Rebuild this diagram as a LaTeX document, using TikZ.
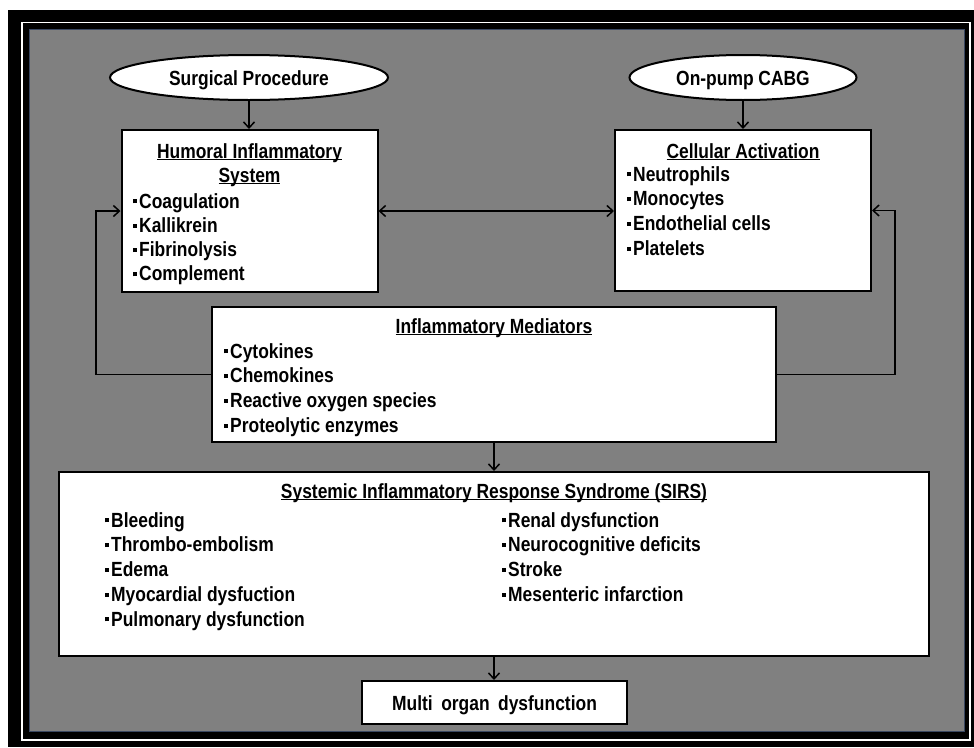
\documentclass[tikz,border=0pt]{standalone}
\usepackage{fontspec}
\setmainfont{Liberation Sans}[FakeStretch=0.85]
\usetikzlibrary{shapes.geometric,shadows,arrows.meta}
\definecolor{bggray}{RGB}{128,128,128}
\definecolor{frameblue}{RGB}{58,72,98}
\newcommand\ulc[1]{\setbox0\hbox{#1}\rlap{\rule[-2.4pt]{\wd0}{1.4pt}}\box0}
\newcommand\bulsq{\rule[4.6pt]{4pt}{4pt}\kern2pt}
\begin{document}
\begin{tikzpicture}[x=1pt,y=-1pt,
  box/.style={draw=black, line width=2pt, fill=white, inner sep=0pt,
    drop shadow={shadow xshift=3pt, shadow yshift=-3pt, opacity=0.55}},
  oval/.style={box, ellipse},
  txt/.style={font=\fontsize{20.5}{24}\selectfont\bfseries, text height=15pt, text depth=3pt, inner sep=0pt},
  itm/.style={txt, anchor=west},
  barb/.tip={Straight Barb[length=6pt,width=11pt,line width=1.5pt]},
  arr/.style={line width=1.5pt, -barb},
  arrb/.style={line width=1.5pt, barb-barb}
]
\useasboundingbox (0,0) rectangle (974,747);
% frame
\fill[white] (0,0) rectangle (974,747);
\fill[black] (8,10) rectangle (974,747);
\draw[white, line width=1.3pt] (22,22.5) rectangle (970,740);
\fill[bggray] (29,29) rectangle (965,732);
\draw[frameblue, line width=1pt] (29.5,29.5) rectangle (964.5,731.5);

% ovals
\node[oval, minimum width=278pt, minimum height=45pt] (surg) at (249,77.5) {};
\node[txt] (surgt) at (249,79) {Surgical Procedure};
\node[oval, minimum width=227pt, minimum height=45pt] (cabg) at (743,77.5) {};
\node[txt] (cabgt) at (743,79) {On-pump CABG};

% boxes
\node[box, minimum width=256pt, minimum height=162pt] (hum) at (249.5,211) {};
\node[box, minimum width=256pt, minimum height=161pt] (cell) at (743,210.5) {};
\node[box, minimum width=564pt, minimum height=135pt] (med) at (494,374.5) {};
\node[box, minimum width=870pt, minimum height=184pt] (sirs) at (494,564) {};
\node[box, minimum width=265pt, minimum height=43pt] (multi) at (494.5,702.5) {};

% texts
\node[txt] (humt1) at (249.5,152) {\ulc{Humoral Inflammatory}};
\node[txt] (humt2) at (249.5,176) {\ulc{System}};
\foreach \t [count=\i] in {Coagulation,Kallikrein,Fibrinolysis,Complement}
  \node[itm] (hum-\i) at (133,{202+24.3*(\i-1)}) {\bulsq\t};

\node[txt] (cellt) at (743,152) {\ulc{Cellular Activation}};
\foreach \t [count=\i] in {Neutrophils,Monocytes,Endothelial cells,Platelets}
  \node[itm] (cell-\i) at (627,{175+24.7*(\i-1)}) {\bulsq\t};

\node[txt] (medt) at (494,327) {\ulc{Inflammatory Mediators}};
\foreach \t [count=\i] in {Cytokines,Chemokines,Reactive oxygen species,Proteolytic enzymes}
  \node[itm] (med-\i) at (224,{352+24.7*(\i-1)}) {\bulsq\t};

\node[txt] (sirst) at (494,492) {\ulc{Systemic Inflammatory Response Syndrome (SIRS)}};
\foreach \t [count=\i] in {Bleeding,Thrombo-embolism,Edema,Myocardial dysfuction,Pulmonary dysfunction}
  \node[itm] (sirsl-\i) at (105,{521+24.75*(\i-1)}) {\bulsq\t};
\foreach \t [count=\i] in {Renal dysfunction,Neurocognitive deficits,Stroke,Mesenteric infarction}
  \node[itm] (sirsr-\i) at (502,{521+24.75*(\i-1)}) {\bulsq\t};

\node[txt] (multit) at (494.5,704) {Multi\hspace{8.5pt}organ\hspace{8.5pt}dysfunction};

% connectors
\draw[arr] (surg.south) -- (surg.south |- hum.north);
\draw[arr] (cabg.south) -- (cabg.south |- cell.north);
\draw[arrb] (hum.east) -- (hum.east -| cell.west);
\draw[arr] (med.west) -- ++(-115,0) |- (hum.west);
\draw[arr] (med.east) -- ++(118,0) |- (cell.east);
\draw[arr] (med.south) -- (med.south |- sirs.north);
\draw[arr] (sirs.south) -- (sirs.south |- multi.north);
\end{tikzpicture}
\end{document}
